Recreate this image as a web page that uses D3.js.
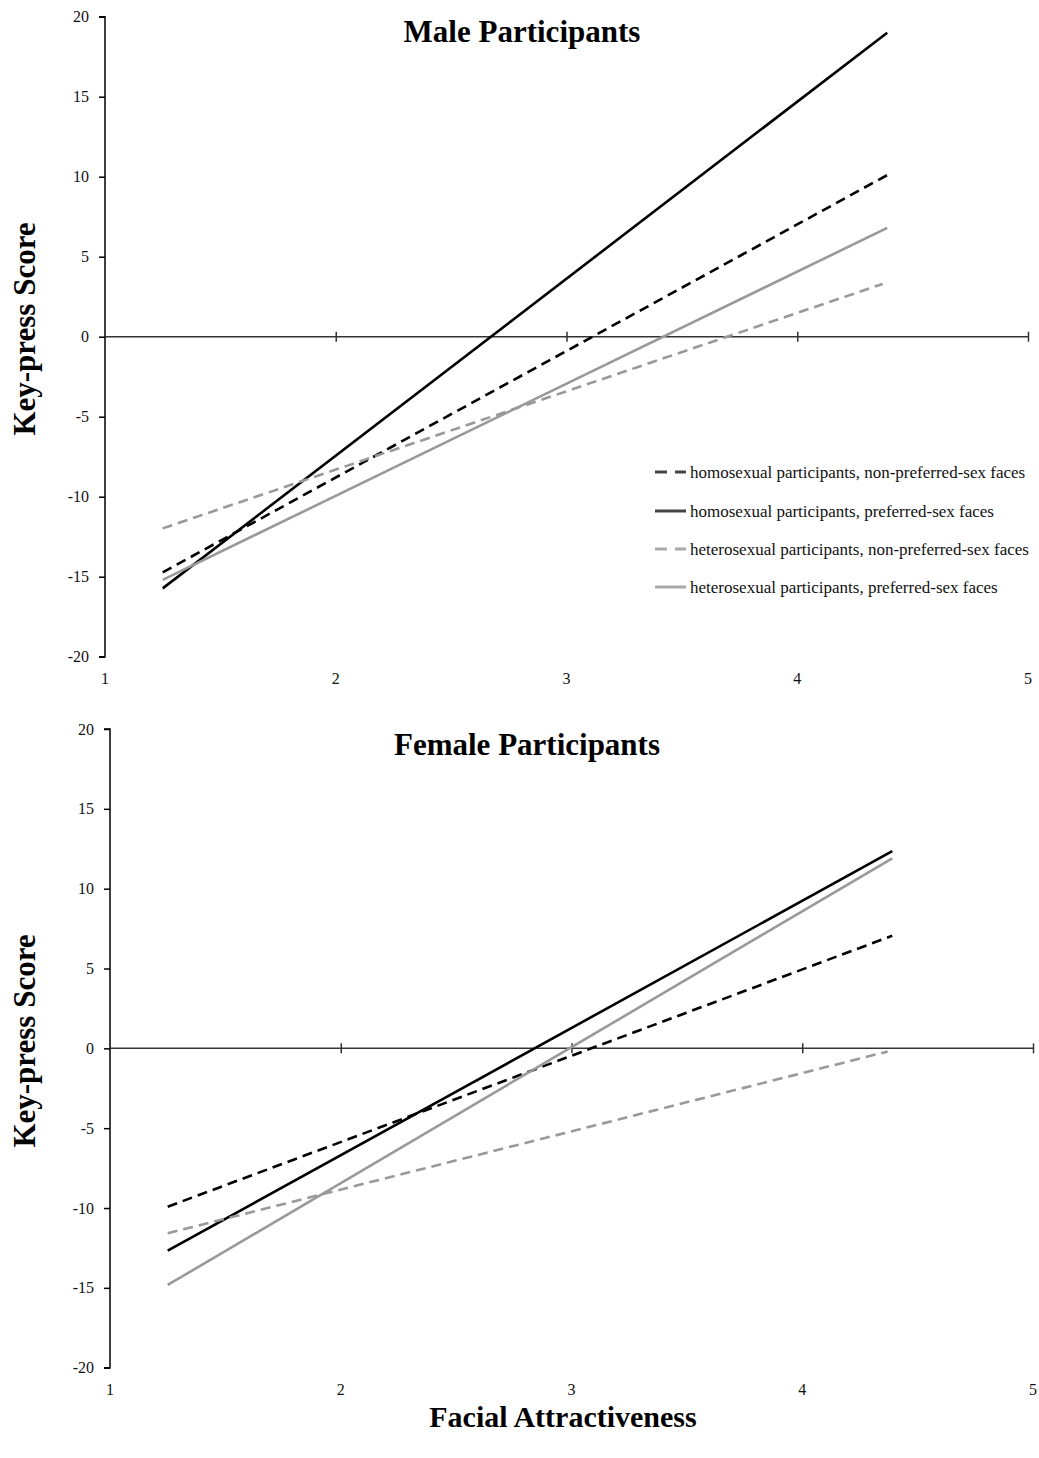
<!DOCTYPE html>
<html><head><meta charset="utf-8">
<script src="https://cdn.jsdelivr.net/npm/d3@7"></script>
<style>body{margin:0;background:#fff}svg{display:block}text{font-family:"Liberation Serif","Times New Roman",serif}</style>
</head><body><svg id="c" width="1039" height="1458"></svg>
<script>
const seriesNames = ["homosexual participants, non-preferred-sex faces","homosexual participants, preferred-sex faces","heterosexual participants, non-preferred-sex faces","heterosexual participants, preferred-sex faces"];
const xStart = [1.25, 1.25, 1.25, 1.25];
const xEnd = [4.39, 4.39, 4.37, 4.39];
const maleStart = [-14.73, -15.73, -11.98, -15.2];
const maleEnd = [10.1, 19.0, 3.3, 6.8];
const femaleStart = [-9.92, -12.67, -11.58, -14.82];
const femaleEnd = [7.05, 12.35, -0.2, 11.9];
const xTicks = [1,2,3,4,5];
const yTicks = [-20,-15,-10,-5,0,5,10,15,20];
const panelTitles = ["Male Participants","Female Participants"];
const yTitle = "Key-press Score";
const xTitle = "Facial Attractiveness";

const colors = ["#000","#000","#999","#999"];
const dashes = [[10,6],null,[10,6],null];
const legColors = ["#444","#444","#aaa","#aaa"];
const FONT = "'Liberation Serif','Times New Roman',serif";

const svg = d3.select("#c");
const panels = [
  {x0:105,x1:1028,yTop:16.7,yBot:656.7,start:maleStart,end:maleEnd,title:panelTitles[0],titleX:522,titleY:42,labY:684,yTitleY:329,legend:true},
  {x0:110,x1:1033,yTop:729,yBot:1367.7,start:femaleStart,end:femaleEnd,title:panelTitles[1],titleX:527,titleY:755,labY:1395,yTitleY:1041,legend:false}
];

panels.forEach(p=>{
  const x = d3.scaleLinear().domain([1,5]).range([p.x0,p.x1]);
  const y = d3.scaleLinear().domain([-20,20]).range([p.yBot,p.yTop]);
  const g = svg.append("g");
  const ya = g.append("g").attr("transform",`translate(${p.x0},0)`)
    .call(d3.axisLeft(y).tickValues(yTicks).tickSize(6).tickPadding(10).tickFormat(d=>String(d)));
  ya.attr("font-size",16).attr("font-family",FONT);
  ya.select(".domain").attr("stroke","#000").attr("stroke-width",1.5).attr("d",`M-6,${p.yTop}H0V${p.yBot}H-6`);
  ya.selectAll(".tick line").attr("stroke","#000").attr("stroke-width",1.5);
  ya.selectAll(".tick text").attr("fill","#111");
  const xa = g.append("g").attr("transform",`translate(0,${y(0)})`)
    .call(d3.axisBottom(x).tickValues(xTicks.slice(1)).tickSize(0).tickFormat(""));
  xa.select(".domain").attr("stroke","#333").attr("stroke-width",1.5).attr("d",`M${p.x0},0H${p.x1}`);
  xa.selectAll(".tick line").attr("stroke","#333").attr("stroke-width",1.5).attr("y1",-5).attr("y2",5);
  g.selectAll(".xl").data(xTicks).join("text").attr("class","xl")
    .attr("x",d=>x(d)).attr("y",p.labY).attr("text-anchor","middle")
    .attr("font-size",16).attr("fill","#111").text(d=>d);
  const line = d3.line().x(d=>x(d[0])).y(d=>y(d[1]));
  seriesNames.forEach((s,i)=>{
    g.append("path").datum([[xStart[i],p.start[i]],[xEnd[i],p.end[i]]])
      .attr("d",line).attr("fill","none").attr("stroke",colors[i]).attr("stroke-width",2.6)
      .attr("stroke-dasharray",dashes[i]?dashes[i].join(","):null);
  });
  g.append("text").attr("x",p.titleX).attr("y",p.titleY).attr("text-anchor","middle")
    .attr("font-size",31).attr("font-weight","bold").text(p.title);
  g.append("text").attr("transform",`translate(35,${p.yTitleY}) rotate(-90)`)
    .attr("text-anchor","middle").attr("font-size",31).attr("font-weight","bold").text(yTitle);
  if(p.legend){
    const ly = [472,511,549,587];
    seriesNames.forEach((s,i)=>{
      g.append("line").attr("x1",655).attr("x2",686).attr("y1",ly[i]).attr("y2",ly[i])
        .attr("stroke",legColors[i]).attr("stroke-width",3)
        .attr("stroke-dasharray",dashes[i]?"12,8":null);
      g.append("text").attr("x",690).attr("y",ly[i]).attr("dy","0.35em")
        .attr("font-size",17).attr("fill","#111").text(s);
    });
  }
});
svg.append("text").attr("x",563).attr("y",1427).attr("text-anchor","middle")
  .attr("font-size",30).attr("font-weight","bold").text(xTitle);
</script></body></html>
